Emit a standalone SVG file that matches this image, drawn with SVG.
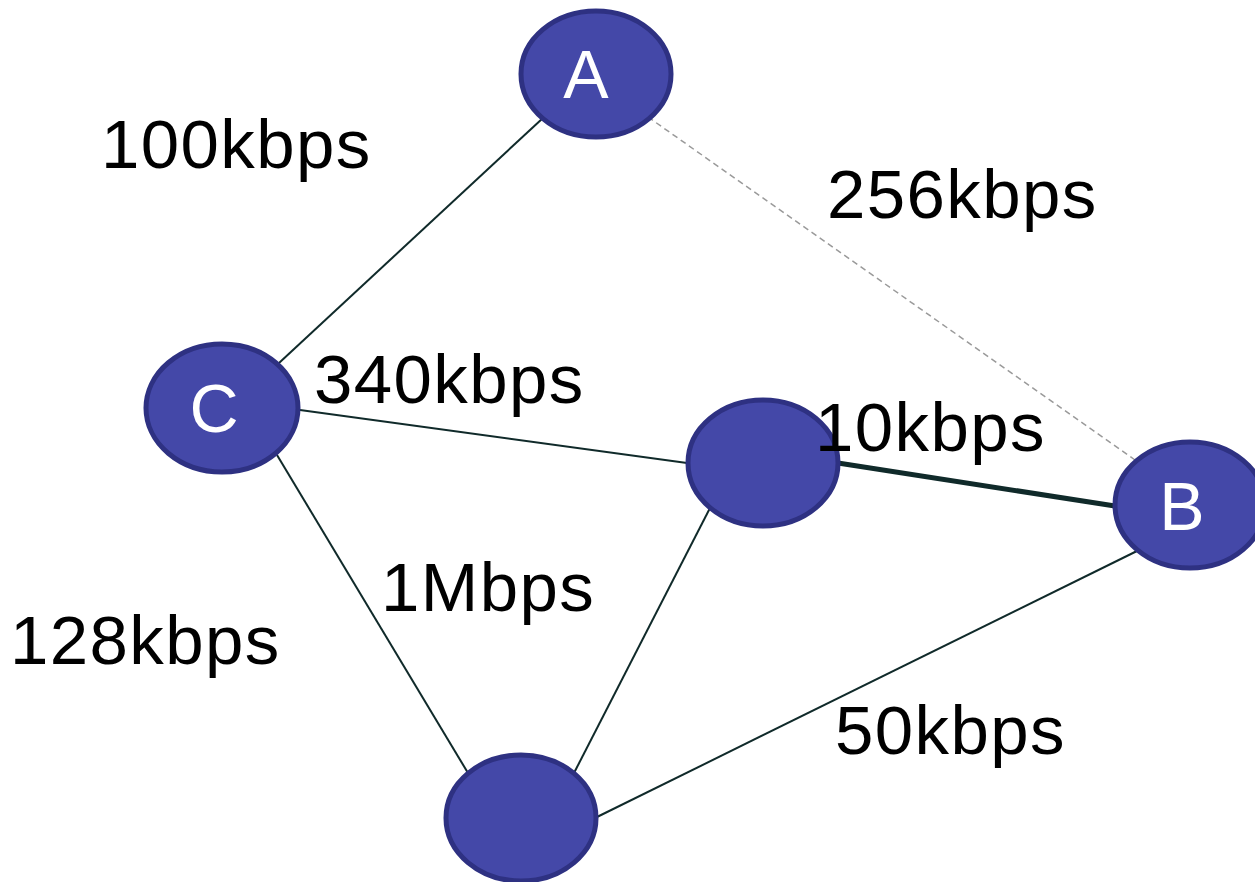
<svg xmlns="http://www.w3.org/2000/svg" width="1255" height="882" viewBox="0 0 1255 882">
<style>
.node{fill:#4448a8;stroke:#2e3182;stroke-width:5}
.lbl{font-family:"Liberation Sans",Arial,sans-serif;font-size:69px;letter-spacing:1.4px;fill:#000}
.nl{font-family:"Liberation Sans",Arial,sans-serif;font-size:68px;fill:#fff;text-anchor:middle}
.e{stroke:#102a2a;stroke-width:2;fill:none}
.thick{stroke:#102a2a;stroke-width:5;fill:none}
.dash{stroke:#9a9a9a;stroke-width:1.5;stroke-dasharray:6 4;fill:none}
</style>
<rect width="1255" height="882" fill="#fff"/>
<g id="connectors">
<line class="e" x1="543" y1="118" x2="279" y2="363"/>
<line class="dash" x1="648" y1="117" x2="1135" y2="460"/>
<line class="e" x1="300" y1="410" x2="687" y2="463"/>
<line class="thick" x1="838" y1="463" x2="1115" y2="506"/>
<line class="e" x1="277" y1="455" x2="468" y2="773"/>
<line class="e" x1="710" y1="508" x2="574" y2="773"/>
<line class="e" x1="597" y1="817" x2="1137" y2="551"/>
</g>
<g id="node-A"><ellipse class="node" cx="596" cy="74" rx="75" ry="63"/><text class="nl" x="586" y="98">A</text></g>
<g id="node-C"><ellipse class="node" cx="222" cy="408" rx="76" ry="64"/><text class="nl" x="214" y="432">C</text></g>
<g id="node-mid"><ellipse class="node" cx="763" cy="463" rx="75" ry="63"/></g>
<g id="node-B"><ellipse class="node" cx="1190" cy="505" rx="75" ry="63"/><text class="nl" x="1182" y="530">B</text></g>
<g id="node-bottom"><ellipse class="node" cx="521" cy="818" rx="75" ry="63"/></g>
<g id="labels">
<text class="lbl" x="101" y="168">100kbps</text>
<text class="lbl" x="827" y="218">256kbps</text>
<text class="lbl" x="314" y="403">340kbps</text>
<text class="lbl" x="815" y="451">10kbps</text>
<text class="lbl" x="381" y="611">1Mbps</text>
<text class="lbl" x="10" y="664">128kbps</text>
<text class="lbl" x="835" y="754">50kbps</text>
</g>
</svg>
